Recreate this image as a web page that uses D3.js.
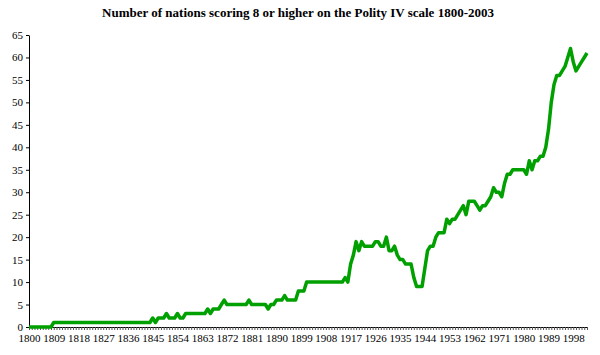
<!DOCTYPE html>
<html><head><meta charset="utf-8">
<script src="https://cdn.jsdelivr.net/npm/d3@7/dist/d3.min.js"></script>
<style>body{margin:0;background:#fff}svg{display:block}</style>
</head><body>
<svg id="chart" width="600" height="355"></svg>
<script>
const title = "Number of nations scoring 8 or higher on the Polity IV scale 1800-2003";
const startYear = 1800;
const values = [
  // 1800-1809
  0,0,0,0,0,0,0,0,0,1,
  // 1810-1819
  1,1,1,1,1,1,1,1,1,1,
  // 1820-1829
  1,1,1,1,1,1,1,1,1,1,
  // 1830-1839
  1,1,1,1,1,1,1,1,1,1,
  // 1840-1849
  1,1,1,1,1,2,1,2,2,2,
  // 1850-1859
  3,2,2,2,3,2,2,3,3,3,
  // 1860-1869
  3,3,3,3,3,4,3,4,4,4,
  // 1870-1879
  5,6,5,5,5,5,5,5,5,5,
  // 1880-1889
  6,5,5,5,5,5,5,4,5,5,
  // 1890-1899
  6,6,6,7,6,6,6,6,8,8,
  // 1900-1909
  8,10,10,10,10,10,10,10,10,10,
  // 1910-1919
  10,10,10,10,10,11,10,14,16,19,
  // 1920-1929
  17,19,18,18,18,18,19,19,18,18,
  // 1930-1939
  20,17,17,18,16,15,15,14,14,14,
  // 1940-1949
  11,9,9,9,13,17,18,18,20,21,
  // 1950-1959
  21,21,24,23,24,24,25,26,27,25,
  // 1960-1969
  28,28,28,27,26,27,27,28,29,31,
  // 1970-1979
  30,30,29,32,34,34,35,35,35,35,
  // 1980-1989
  35,34,37,35,37,37,38,38,40,44,
  // 1990-1999
  50,54,56,56,57,58,60,62,59,57,
  // 2000-2003
  58,59,60,61
];
const years = values.map((v, i) => startYear + i);
const yTicks = [0,5,10,15,20,25,30,35,40,45,50,55,60,65];
const xLabelStep = 9;

const svg = d3.select("#chart");
const x = d3.scaleLinear().domain([1800, 2003]).range([29, 587]);
const y = d3.scaleLinear().domain([0, 65]).range([327, 35]);

svg.append("text")
  .attr("x", 298).attr("y", 17)
  .attr("text-anchor", "middle")
  .attr("font-family", "'Liberation Serif','Times New Roman',serif")
  .attr("font-weight", "bold")
  .attr("font-size", 13)
  .text(title);

const yAxis = svg.append("g")
  .attr("transform", `translate(${x(1800)},0)`)
  .call(d3.axisLeft(y).tickValues(yTicks).tickSize(3).tickSizeOuter(0).tickPadding(3));
yAxis.selectAll("text")
  .attr("font-family", "'Liberation Serif','Times New Roman',serif")
  .attr("font-size", 11).attr("fill", "#000");
yAxis.selectAll("line,path").attr("stroke", "#000");

const xAxis = svg.append("g")
  .attr("transform", `translate(0,${y(0)})`)
  .call(d3.axisBottom(x).tickValues(years).tickSize(3).tickSizeOuter(0).tickPadding(4)
    .tickFormat(d => ((d - 1800) % xLabelStep === 0) ? String(d) : ""));
xAxis.selectAll("text")
  .attr("font-family", "'Liberation Serif','Times New Roman',serif")
  .attr("font-size", 11).attr("fill", "#000");
xAxis.selectAll("line").attr("stroke", "#555");
xAxis.select("path").attr("stroke", "#000");

const line = d3.line().x((d, i) => x(years[i])).y(d => y(d));
svg.append("path")
  .datum(values)
  .attr("d", line)
  .attr("fill", "none")
  .attr("stroke", "#00a000")
  .attr("stroke-width", 3.5)
  .attr("stroke-linejoin", "round");
</script>
</body></html>
